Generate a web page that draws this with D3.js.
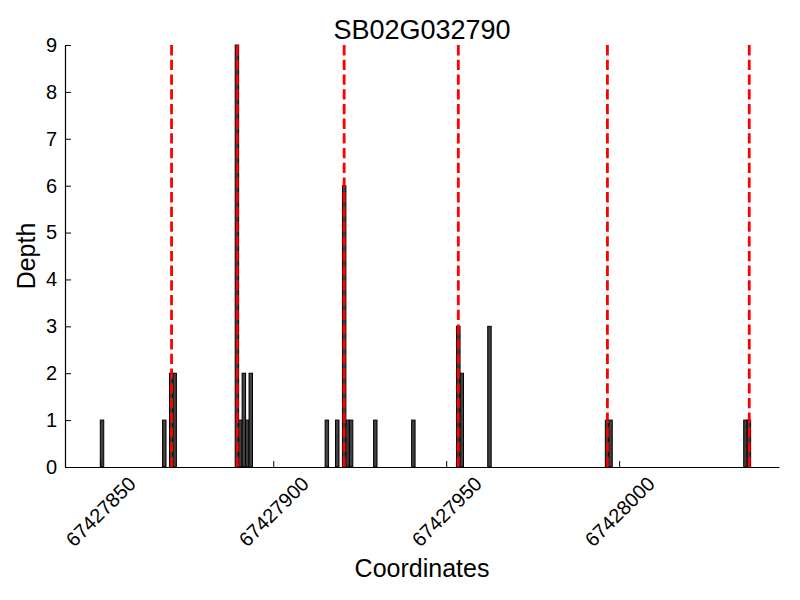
<!DOCTYPE html>
<html>
<head>
<meta charset="utf-8">
<script src="https://cdn.jsdelivr.net/npm/d3@7"></script>
<style>
  html, body { margin: 0; padding: 0; background: #fff; }
  svg text { font-family: "Liberation Sans", Arial, Helvetica, sans-serif; fill: #000; }
</style>
</head>
<body>
<svg id="chart" width="800" height="600"></svg>
<script>
// ---- data ----
const title = "SB02G032790";
const xLabel = "Coordinates";
const yLabel = "Depth";
const positions = [67427850, 67427868, 67427870, 67427871, 67427889, 67427890, 67427891, 67427892, 67427893,
                   67427915, 67427918, 67427920, 67427921, 67427922, 67427929, 67427940,
                   67427953, 67427954, 67427962, 67427996, 67427997, 67428036, 67428037];
const depths    = [1, 1, 2, 2, 9, 1, 2, 1, 2,
                   1, 1, 6, 1, 1, 1, 1,
                   3, 2, 3, 1, 1, 1, 1];
const markers   = [67427870.6, 67427889.6, 67427920.5, 67427953.5, 67427996.6, 67428037.6];
const xTicks    = [67427850, 67427900, 67427950, 67428000];
const yTicks    = [0, 1, 2, 3, 4, 5, 6, 7, 8, 9];
const xDomain   = [67427839.8, 67428046.2];
const yDomain   = [0, 9];

// ---- layout ----
const svg = d3.select("#chart");
const mLeft = 65, mRight = 779, mTop = 45, mBottom = 467;

const x = d3.scaleLinear().domain(xDomain).range([mLeft, mRight]);
const y = d3.scaleLinear().domain(yDomain).range([mBottom, mTop]);

const bars = positions.map((p, i) => ({ p, d: depths[i] }));

// bars
svg.append("g").selectAll("rect").data(bars).join("rect")
  .attr("x", d => x(d.p))
  .attr("y", d => y(d.d))
  .attr("width", d => x(d.p + 1) - x(d.p))
  .attr("height", d => y(0) - y(d.d))
  .attr("fill", "#404040")
  .attr("stroke", "#000")
  .attr("stroke-width", 1);

// red dashed marker lines
svg.append("g").selectAll("line").data(markers).join("line")
  .attr("x1", d => x(d)).attr("x2", d => x(d))
  .attr("y1", mBottom).attr("y2", mTop)
  .attr("stroke", "red")
  .attr("stroke-width", 2.8)
  .attr("stroke-dasharray", "10.3,4.4");

// axes
const tickFont = 20;
const xAxis = d3.axisBottom(x).tickValues(xTicks).tickSizeInner(-6).tickSizeOuter(0).tickFormat(d3.format("d")).tickPadding(0);
const gx = svg.append("g").attr("transform", `translate(0,${mBottom})`).call(xAxis);
gx.select(".domain").attr("stroke", "#000").attr("stroke-width", 1.2);
gx.selectAll(".tick line").attr("stroke", "#000");
gx.selectAll(".tick text")
  .attr("font-size", tickFont)
  .attr("text-anchor", "middle")
  .attr("dominant-baseline", "central")
  .attr("y", 0).attr("dy", 0)
  .each(function () {
    const L = this.getComputedTextLength();
    const h = 0.72 * tickFont;
    const half = (L + h) * Math.SQRT1_2 / 2;
    d3.select(this).attr("transform", `translate(0,${8 + half}) rotate(-45)`);
  });

const yAxis = d3.axisLeft(y).tickValues(yTicks).tickSizeInner(-6).tickSizeOuter(0).tickPadding(8);
const gy = svg.append("g").attr("transform", `translate(${mLeft},0)`).call(yAxis);
gy.select(".domain").attr("stroke", "#000").attr("stroke-width", 1.2);
gy.selectAll(".tick line").attr("stroke", "#000");
gy.selectAll(".tick text").attr("font-size", tickFont);

// title & labels
svg.append("text").attr("x", (mLeft + mRight) / 2).attr("y", 39)
  .attr("text-anchor", "middle").attr("font-size", 27).text(title);
svg.append("text").attr("x", (mLeft + mRight) / 2).attr("y", 577)
  .attr("text-anchor", "middle").attr("font-size", 25).text(xLabel);
svg.append("text").attr("transform", `translate(35,${(mTop + mBottom) / 2}) rotate(-90)`)
  .attr("text-anchor", "middle").attr("font-size", 25).text(yLabel);
</script>
</body>
</html>
